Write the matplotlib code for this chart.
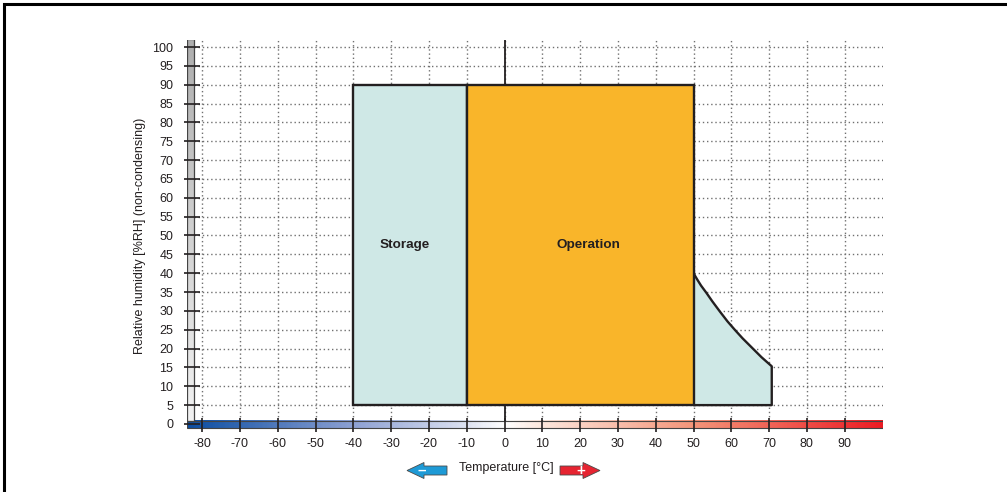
import numpy as np
import matplotlib
matplotlib.use('Agg')
import matplotlib.pyplot as plt
from matplotlib.colors import LinearSegmentedColormap
from matplotlib.patches import Rectangle, Polygon

plt.rcParams['font.family'] = ['Liberation Sans', 'DejaVu Sans']
plt.rcParams['axes.unicode_minus'] = False

# ticks
temp_ticks = list(range(-80, 100, 10))
rh_ticks = list(range(0, 105, 5))
grid_rh = list(range(5, 105, 5))

# areas (temperature in °C, relative humidity in %)
storage_temp = (-40, -10)
operation_temp = (-10, 50)
rh_low, rh_high = 5, 90

# storage limit above 50 °C
curve_temp = [50, 51, 52, 53.4, 55, 57, 59, 61, 63, 65.5, 68, 70.7]
curve_rh = [40, 38.3, 36.7, 34.8, 32.5, 29.8, 27.2, 24.9, 22.7, 20.2, 17.7, 15.3]

dark = '#231f20'
teal = '#cfe8e6'
orange = '#f9b52a'

W, H = 1007, 492
fig = plt.figure(figsize=(W / 100, H / 100), dpi=100)


def fpx(x, y):
    # pixel position -> figure fraction
    return x / W, 1 - y / H


ax = fig.add_axes([187 / W, 1 - 431.5 / H, 695.5 / W, 392 / H])
ax.set_facecolor('none')

# temperature colour bar
cmap = LinearSegmentedColormap.from_list('temp', [
    (0.0, '#0c4ea2'),
    ((-40 + 84) / 184, '#8ea1d3'),
    ((-10 + 84) / 184, '#dde2f2'),
    ((0 + 84) / 184, '#ffffff'),
    ((10 + 84) / 184, '#fde6dc'),
    ((50 + 84) / 184, '#f4957a'),
    (1.0, '#ec1c24'),
])
grad = np.linspace(0, 1, 400).reshape(1, -1)
ax.imshow(grad, extent=[-84, 100, -1.2, 0.9], aspect='auto', cmap=cmap, zorder=0)
ax.add_patch(Rectangle((-84, -1.2), 184, 2.1, fill=False, ec='#444444', lw=0.8, zorder=1))

# grey humidity bar
greys = LinearSegmentedColormap.from_list('g', ['#f2f2f2', '#aeaeae'])
vgrad = np.linspace(0, 1, 200).reshape(-1, 1)
ax.imshow(vgrad, extent=[-84, -82.1, 0.9, 102.2], origin='lower', aspect='auto', cmap=greys, zorder=0)
ax.add_patch(Rectangle((-84, 0.9), 1.9, 101.3, fill=False, ec='#444444', lw=0.9, zorder=1))

# dotted grid
ax.hlines(grid_rh, -82.1, 100, colors='#707070', linestyles=(0, (1, 2)), lw=1.0, zorder=1)
ax.vlines(temp_ticks, 0.9, 102.2, colors='#707070', linestyles=(0, (1, 2)), lw=1.0, zorder=1)
ax.vlines(0, 0.9, 102.2, colors=dark, lw=1.3, zorder=2)

# storage / operation areas
ax.add_patch(Rectangle((storage_temp[0], rh_low), storage_temp[1] - storage_temp[0], rh_high - rh_low,
                       fc=teal, ec=dark, lw=1.7, joinstyle='miter', zorder=3))
ext = [(curve_temp[0], rh_low)] + list(zip(curve_temp, curve_rh)) + [(curve_temp[-1], rh_low)]
ax.add_patch(Polygon(ext, closed=True, fc=teal, ec=dark, lw=1.7, joinstyle='round', zorder=3))
ax.add_patch(Rectangle((operation_temp[0], rh_low), operation_temp[1] - operation_temp[0], rh_high - rh_low,
                       fc=orange, ec=dark, lw=1.7, joinstyle='miter', zorder=4))

ax.text(-26.3, 47.5, 'Storage', ha='center', va='center', fontsize=9.7, fontweight='bold', color=dark, zorder=5)
ax.text(22.2, 47.5, 'Operation', ha='center', va='center', fontsize=9.7, fontweight='bold', color=dark, zorder=5)

ax.set_xlim(-84, 100)
ax.set_ylim(-2, 102)
for s in ax.spines.values():
    s.set_visible(False)
ax.spines['left'].set_position(('data', -82.8))
ax.spines['bottom'].set_position(('data', -0.15))
ax.set_xticks(temp_ticks)
ax.set_yticks(rh_ticks)
ax.tick_params(axis='y', direction='inout', length=12.2, width=1.2, color=dark, pad=7,
               labelsize=9, labelcolor=dark)
ax.tick_params(axis='x', direction='inout', length=9.4, width=1.2, color=dark, pad=5,
               labelsize=9, labelcolor=dark)

# axis titles
fig.text(*fpx(140, 235.5), 'Relative humidity [%RH] (non-condensing)', rotation=90,
         ha='center', va='center', fontsize=9, color=dark)
fig.text(*fpx(506, 467.5), 'Temperature [°C]', ha='center', va='center', fontsize=9, color=dark)

# arrows next to the temperature title
yc = 470.5
blue = [(407, yc), (424, yc - 8), (424, yc - 4.5), (447, yc - 4.5), (447, yc + 4.5), (424, yc + 4.5), (424, yc + 8)]
red = [(600, yc), (583, yc - 8), (583, yc - 4.5), (560, yc - 4.5), (560, yc + 4.5), (583, yc + 4.5), (583, yc + 8)]
fig.patches.append(Polygon([fpx(*p) for p in blue], closed=True, fc='#1e9ad6', ec='#4a4a4a', lw=0.6,
                           transform=fig.transFigure))
fig.patches.append(Polygon([fpx(*p) for p in red], closed=True, fc='#e62431', ec='#4a4a4a', lw=0.6,
                           transform=fig.transFigure))
fig.text(*fpx(422, 470.5), '\u2013', ha='center', va='center', fontsize=11, color='white', fontweight='bold')
fig.text(*fpx(581, 470.5), '+', ha='center', va='center', fontsize=11, color='white', fontweight='bold')

# outer frame
fig.patches.append(Rectangle(fpx(4, 600), 1.2, (600 - 4) / H, fill=False, ec='black', lw=2.2,
                             transform=fig.transFigure))

fig.savefig('out.png', dpi=100)
